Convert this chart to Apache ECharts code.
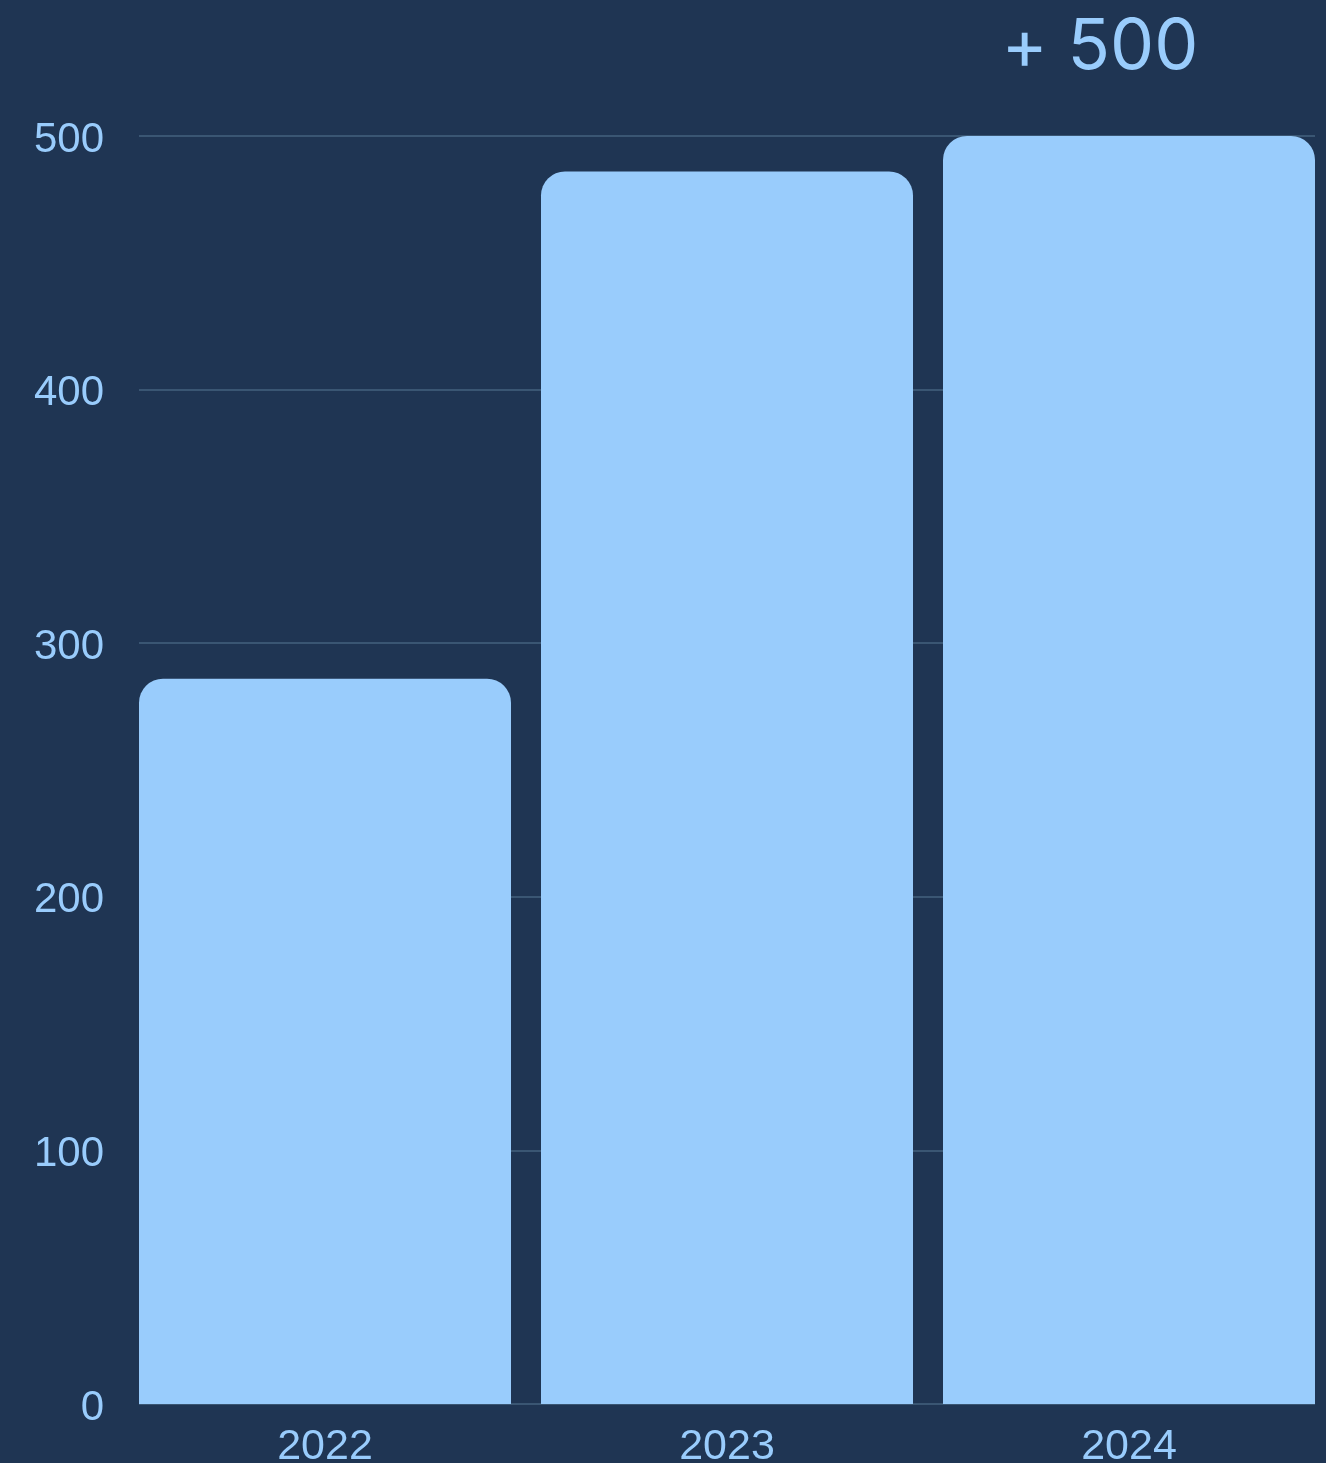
<!DOCTYPE html>
<html>
<head>
<meta charset="utf-8">
<script src="https://cdn.jsdelivr.net/npm/echarts@6/dist/echarts.min.js"></script>
<style>
  html, body { margin: 0; padding: 0; background: #1F3553; }
  #chart { width: 1326px; height: 1463px; }
</style>
</head>
<body>
<div id="chart"></div>
<script>
var years = ['2022', '2023', '2024'];
var values = [286, 486, 500];
var yTicks = [0, 100, 200, 300, 400, 500];

var barColor = '#99CCFC';
var textColor = '#99CCFC';

var chart = echarts.init(document.getElementById('chart'));

// last bar carries the "+ 500" callout
var barData = values.map(function (v, i) {
    if (i !== values.length - 1) return v;
    return {
        value: v,
        label: {
            show: true,
            position: 'top',
            distance: 53,
            offset: [-29, 0],
            formatter: '+ {c}',
            fontFamily: 'Inter',
            fontSize: 70,
            color: textColor
        }
    };
});

var option = {
    backgroundColor: '#1F3553',
    animation: false,
    grid: [
        // grid for the value axis + gridlines
        { left: 139, right: 11, top: 136, bottom: 59, outerBoundsMode: 'none' },
        // grid for the bars (wider so outer bars touch the edges)
        { left: 124, right: -4, top: 136, bottom: 59, outerBoundsMode: 'none' }
    ],
    xAxis: [
        {
            gridIndex: 0, type: 'category', data: years, show: false
        },
        {
            gridIndex: 1, type: 'category', data: years,
            axisLine: { show: false },
            axisTick: { show: false },
            axisLabel: {
                color: textColor, fontSize: 43, margin: 22,
                fontFamily: 'Liberation Sans, Arial, sans-serif'
            }
        }
    ],
    yAxis: [
        {
            gridIndex: 0, type: 'value',
            min: yTicks[0], max: yTicks[yTicks.length - 1], interval: 100,
            axisLine: { show: false },
            axisTick: { show: false },
            axisLabel: {
                margin: 35,
                formatter: '{v|{value}}',
                rich: {
                    v: {
                        color: textColor, fontSize: 42,
                        padding: [8, 0, 0, 0],
                        fontFamily: 'Liberation Sans, Arial, sans-serif'
                    }
                }
            },
            splitLine: { lineStyle: { color: '#3A5673', width: 2 } }
        },
        {
            gridIndex: 1, type: 'value',
            min: yTicks[0], max: yTicks[yTicks.length - 1], interval: 100,
            show: false, splitLine: { show: false }
        }
    ],
    series: [{
        type: 'bar',
        xAxisIndex: 1,
        yAxisIndex: 1,
        data: barData,
        barWidth: 372,
        itemStyle: { color: barColor, borderRadius: [24, 24, 0, 0] }
    }]
};

chart.setOption(option);
</script>
</body>
</html>
